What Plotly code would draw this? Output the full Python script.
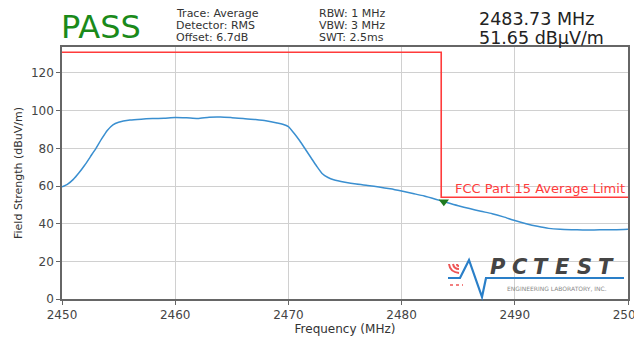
import re
import plotly.graph_objects as go

freq = [2450, 2450.5, 2451, 2451.5, 2452, 2452.5, 2453, 2453.5, 2454, 2454.5, 2455,
        2456, 2457, 2458, 2459, 2460, 2461, 2462, 2463, 2464, 2465, 2466, 2467, 2468, 2469,
        2469.5, 2470, 2470.5, 2471, 2471.5, 2472, 2472.5, 2473, 2473.5,
        2474, 2475, 2476, 2477, 2478, 2479, 2480, 2481, 2482, 2483, 2484, 2485, 2486, 2487,
        2488, 2489, 2490, 2491, 2492, 2493, 2494, 2495, 2496, 2497, 2498, 2499, 2500]
level = [59.5, 61, 63.5, 67, 71, 75.5, 80, 85, 89.5, 92.5, 93.8,
         95, 95.5, 95.8, 96, 96.4, 96.2, 95.8, 96.5, 96.6, 96.3, 95.9, 95.3, 94.6, 93.5,
         92.8, 91.5, 88, 84, 79.5, 75, 70.5, 66.5, 64.5,
         63.3, 62, 61, 60.3, 59.5, 58.5, 57.3, 56, 54.7, 53, 51.2, 49.5, 48, 46.6,
         45.3, 43.6, 41.7, 40, 38.6, 37.5, 37, 36.8, 36.7, 36.7, 36.8, 36.8, 37.0]

limit_x = [2450, 2483.5, 2483.5, 2500]
limit_y = [131, 131, 54, 54]
limit_label = "FCC Part 15 Average Limit"

marker_freq = [2483.73]
marker_level = [51.65]

x_ticks = [2450, 2460, 2470, 2480, 2490, 2500]
y_ticks = [0, 20, 40, 60, 80, 100, 120]

info_left = ["Trace: Average", "Detector: RMS", "Offset: 6.7dB"]
info_mid = ["RBW: 1 MHz", "VBW: 3 MHz", "SWT: 2.5ms"]
readout = ["2483.73 MHz", "51.65 dBµV/m"]
logo_word = "PCTEST"
logo_sub = "ENGINEERING LABORATORY, INC."

FONT = "DejaVu Sans"
OFF = 8  # page body margin in the browser
WIN_W, WIN_H = 642, 339
W, H = WIN_W, WIN_H - OFF
# plot area in window pixels: x 62..628, y 47..299
ML, MR, MT, MB = 62 - OFF, (W + OFF) - 628, 47 - OFF, WIN_H - 299
PW, PH = W - ML - MR, H - MT - MB


def px(x):  # window pixel x -> paper fraction
    return (x - OFF - ML) / PW


def py(y):  # window pixel y (from top) -> paper fraction
    return (MT + PH - (y - OFF)) / PH


fig = go.Figure()
fig.add_trace(go.Scatter(x=limit_x, y=limit_y, mode="lines",
                         line=dict(color="#ff3b3b", width=1.6), showlegend=False))
fig.add_trace(go.Scatter(x=freq, y=level, mode="lines",
                         line=dict(color="#3a8fd0", width=1.5, shape="spline", smoothing=0.6),
                         showlegend=False))
fig.add_trace(go.Scatter(x=marker_freq, y=marker_level, mode="markers",
                         marker=dict(symbol="triangle-down", size=9, color="#1f7a1f"),
                         showlegend=False))

fig.add_annotation(x=2484.5, y=54, xref="x", yref="y", text=limit_label, showarrow=False,
                   xanchor="left", yanchor="bottom", yshift=-1,
                   font=dict(family=FONT, size=13, color="#ff3b3b"))


def label(xp, yp, text, size, color, anchor="left"):
    fig.add_annotation(x=px(xp), y=py(yp), xref="paper", yref="paper", text=text,
                       showarrow=False, xanchor=anchor, yanchor="middle",
                       font=dict(family=FONT, size=size, color=color))


# header
label(59, 27, "PASS", 32, "#1a8a1a")
for i, t in enumerate(info_left):
    label(174, 13 + 12.5 * i, t, 11, "#333")
for i, t in enumerate(info_mid):
    label(317, 13 + 12.5 * i, t, 11, "#333")
for i, t in enumerate(readout):
    label(477, 19 + 19 * i, t, 17.5, "#222")

# logo
for i, ch in enumerate(logo_word):
    label(498 + 21.6 * i, 267, "<b><i>" + ch + "</i></b>", 21, "#454545", anchor="center")
label(557, 288, logo_sub, 6, "#888", anchor="center")

logo_paths = [
    ("M 448 278 L 460 278 L 469 260 L 482 297 L 486 278 L 624 278", "#2a7fc8", 2.2, "solid"),
    ("M 449 264 Q 450 272 459 273", "#ee5555", 2, "solid"),
    ("M 453 264 Q 454 269 459 269", "#ee5555", 2, "solid"),
    ("M 457 264 Q 457 266 459 266", "#ee5555", 2, "solid"),
    ("M 450 285 L 463 285", "#ee5555", 1.5, "dot"),
]


def conv(m):
    return f"{px(float(m.group(1))):.5f} {py(float(m.group(2))):.5f}"


for path, col, wd, dash in logo_paths:
    fig.add_shape(type="path", path=re.sub(r"([\d.]+) ([\d.]+)", conv, path),
                  xref="paper", yref="paper", layer="above",
                  line=dict(color=col, width=wd, dash=dash))

axis_common = dict(showline=True, mirror=True, linecolor="#666", linewidth=1.5,
                   showgrid=True, gridcolor="#d0d0d0", gridwidth=1,
                   ticks="outside", ticklen=4, tickcolor="#666", automargin=False,
                   ticklabeloverflow="allow",
                   tickfont=dict(family=FONT, size=12, color="#444"), zeroline=False)

fig.update_layout(
    width=W, height=H,
    margin=dict(l=ML, r=MR, t=MT, b=MB),
    paper_bgcolor="white", plot_bgcolor="white",
    xaxis=dict(range=[2450, 2500], tickvals=x_ticks,
               title=dict(text="Frequency (MHz)", standoff=3,
                          font=dict(family=FONT, size=12, color="#333")), **axis_common),
    yaxis=dict(range=[0, 133.8], tickvals=y_ticks,
               title=dict(text="Field Strength (dBuV/m)", standoff=6,
                          font=dict(family=FONT, size=11, color="#333")), **axis_common),
)

fig.write_html("out.html")
